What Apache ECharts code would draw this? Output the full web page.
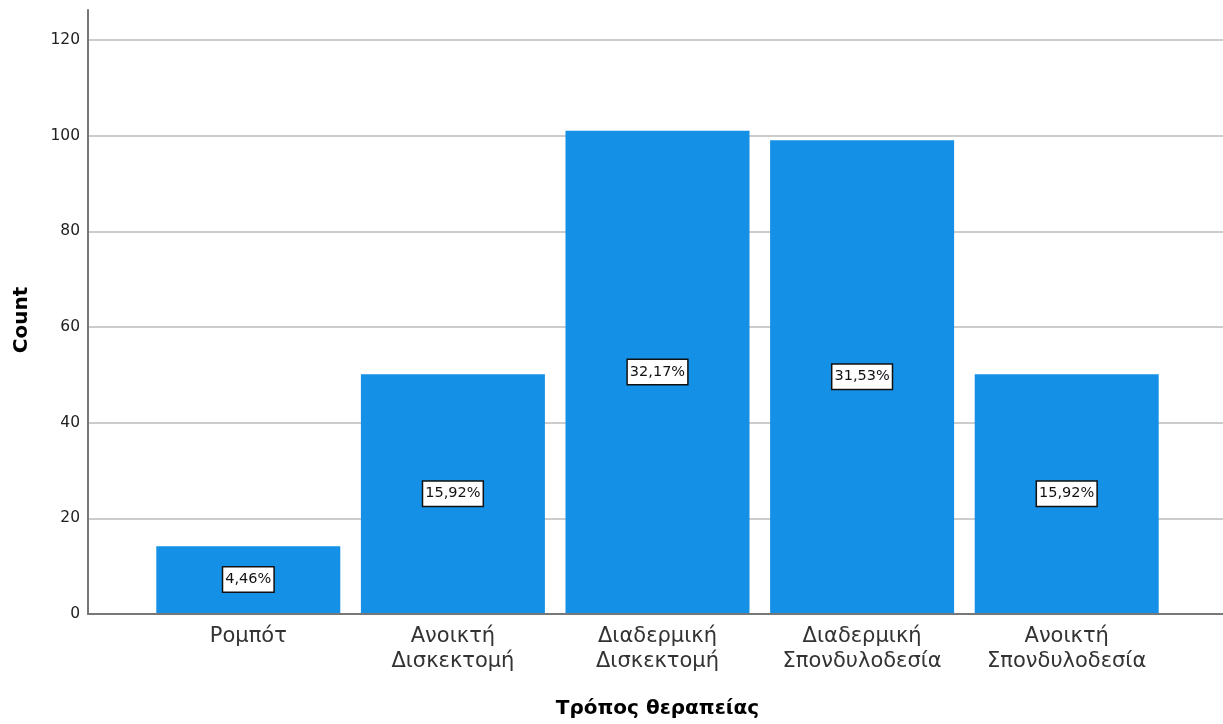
<!DOCTYPE html>
<html>
<head>
<meta charset="utf-8">
<script src="https://cdn.jsdelivr.net/npm/echarts@6/dist/echarts.min.js"></script>
<style>
html,body{margin:0;padding:0;background:#fff;}
#chart{width:1223px;height:724px;}
</style>
</head>
<body>
<div id="chart"></div>
<script>
// Treatment method counts (N = 314)
const categories = ['Ρομπότ', 'Ανοικτή\nΔισκεκτομή', 'Διαδερμική\nΔισκεκτομή', 'Διαδερμική\nΣπονδυλοδεσία', 'Ανοικτή\nΣπονδυλοδεσία'];
const counts = [14, 50, 101, 99, 50];
const percentLabels = ['4,46%', '15,92%', '32,17%', '31,53%', '15,92%'];
const yTicks = [0, 20, 40, 60, 80, 100, 120];

const yMax = 126.3;
const font = '"DejaVu Sans", sans-serif';

const chart = echarts.init(document.getElementById('chart'), null, {renderer: 'canvas'});
chart.setOption({
  animation: false,
  backgroundColor: '#fff',
  grid: [
    {left: 88, right: 0, top: 10, bottom: 110},
    {left: 146, right: 54, top: 10, bottom: 110}
  ],
  xAxis: [
    {
      gridIndex: 0, type: 'value', min: 0, max: 1,
      axisLine: {show: true, lineStyle: {color: '#777', width: 2}},
      axisTick: {show: false}, axisLabel: {show: false}, splitLine: {show: false}
    },
    {
      gridIndex: 1, type: 'category', data: categories,
      name: 'Τρόπος θεραπείας', nameLocation: 'middle', nameGap: 86,
      nameTextStyle: {fontFamily: font, fontSize: 20, fontWeight: 'bold', color: '#000'},
      axisLine: {show: false}, axisTick: {show: false},
      axisLabel: {fontFamily: font, fontSize: 21, color: '#333', lineHeight: 25, margin: 11, interval: 0}
    }
  ],
  yAxis: [
    {
      gridIndex: 0, type: 'value', min: 0, max: yMax, interval: 20,
      name: 'Count', nameLocation: 'middle', nameGap: 56, nameRotate: 90,
      nameTextStyle: {fontFamily: font, fontSize: 20, fontWeight: 'bold', color: '#000', padding: [0, 16, 0, 0]},
      axisLine: {show: true, lineStyle: {color: '#777', width: 2}},
      axisTick: {show: false},
      axisLabel: {
        fontFamily: font, fontSize: 15.5, color: '#222', margin: 8, showMaxLabel: false,
        formatter: v => (yTicks.indexOf(v) >= 0 ? String(v) : '')
      },
      splitLine: {show: true, showMinLine: false, showMaxLine: false, lineStyle: {color: '#cccccc', width: 2}}
    },
    {
      gridIndex: 1, type: 'value', min: 0, max: yMax,
      show: false, splitLine: {show: false}
    }
  ],
  series: [{
    type: 'bar',
    xAxisIndex: 1, yAxisIndex: 1,
    data: counts,
    barWidth: 184,
    itemStyle: {color: '#1490e6'},
    label: {
      show: true, position: 'inside',
      formatter: p => percentLabels[p.dataIndex],
      fontFamily: font, fontSize: 14.5, color: '#111',
      backgroundColor: '#fff', borderColor: '#111', borderWidth: 1.5,
      padding: [5, 2, 4, 2]
    }
  }]
});
</script>
</body>
</html>
